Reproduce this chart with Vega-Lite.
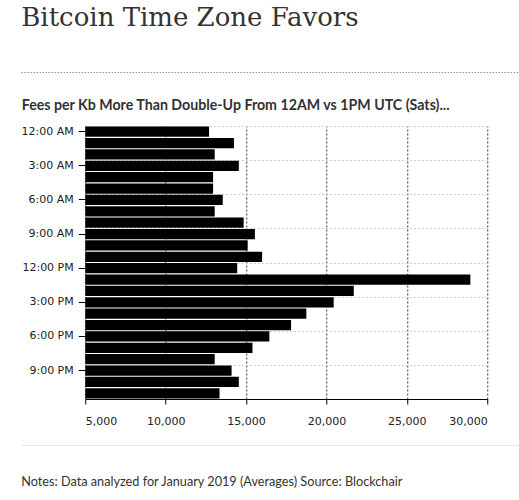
{
  "$schema": "https://vega.github.io/schema/vega-lite/v6.json",
  "background": "white",
  "padding": {"left": 20, "top": 4, "right": 0, "bottom": 5},
  "spacing": 12,
  "center": true,
  "bounds": "full",
  "config": {"view": {"stroke": null}, "font": "Lato"},
  "datasets": {
    "fees": [
      {"hour": "12:00 AM", "fee": 12700},
      {"hour": "1:00 AM", "fee": 14250},
      {"hour": "2:00 AM", "fee": 13050},
      {"hour": "3:00 AM", "fee": 14550},
      {"hour": "4:00 AM", "fee": 12950},
      {"hour": "5:00 AM", "fee": 12950},
      {"hour": "6:00 AM", "fee": 13550},
      {"hour": "7:00 AM", "fee": 13050},
      {"hour": "8:00 AM", "fee": 14850},
      {"hour": "9:00 AM", "fee": 15550},
      {"hour": "10:00 AM", "fee": 15100},
      {"hour": "11:00 AM", "fee": 16000},
      {"hour": "12:00 PM", "fee": 14450},
      {"hour": "1:00 PM", "fee": 28950},
      {"hour": "2:00 PM", "fee": 21700},
      {"hour": "3:00 PM", "fee": 20450},
      {"hour": "4:00 PM", "fee": 18750},
      {"hour": "5:00 PM", "fee": 17800},
      {"hour": "6:00 PM", "fee": 16450},
      {"hour": "7:00 PM", "fee": 15400},
      {"hour": "8:00 PM", "fee": 13050},
      {"hour": "9:00 PM", "fee": 14100},
      {"hour": "10:00 PM", "fee": 14550},
      {"hour": "11:00 PM", "fee": 13350}
    ]
  },
  "vconcat": [
    {
      "width": 530,
      "height": 0.01,
      "title": {
        "text": "Bitcoin Time Zone Favors",
        "font": "DejaVu Serif",
        "fontSize": 26,
        "fontWeight": "normal",
        "color": "#333333",
        "anchor": "start",
        "offset": 35
      },
      "view": {"stroke": "#888888", "strokeDash": [1, 2], "strokeWidth": 1},
      "data": {"values": [{}]},
      "mark": {"type": "text", "text": ""},
      "encoding": {
        "x": {
          "datum": 0,
          "type": "quantitative",
          "scale": {"domain": [0, 1]},
          "axis": {
            "title": "Fees per Kb More Than Double-Up From 12AM vs 1PM UTC (Sats)...",
            "titleFont": "Lato",
            "titleFontSize": 14.2,
            "titleFontWeight": "bold",
            "titleColor": "#333333",
            "titleAnchor": "start",
            "titlePadding": 26,
            "domain": false,
            "ticks": false,
            "labels": false,
            "grid": false
          }
        }
      }
    },
    {
      "width": 402,
      "height": 273,
      "data": {"name": "fees"},
      "resolve": {"axis": {"y": "independent"}},
      "layer": [
        {
          "mark": {"type": "text", "text": ""},
          "encoding": {
            "y": {
              "field": "hour",
              "type": "nominal",
              "sort": null,
              "scale": {"type": "band", "paddingInner": 0.1, "paddingOuter": 0.05},
              "axis": {
                "orient": "left",
                "title": null,
                "labels": false,
                "ticks": false,
                "domain": false,
                "grid": true,
                "bandPosition": 0,
                "gridColor": "#cccccc",
                "gridDash": [2, 2],
                "gridWidth": 1,
                "values": ["12:00 AM", "3:00 AM", "6:00 AM", "9:00 AM", "12:00 PM", "3:00 PM", "6:00 PM", "9:00 PM"]
              }
            }
          }
        },
        {
          "mark": {"type": "bar", "color": "#000000"},
          "encoding": {
            "y": {
              "field": "hour",
              "type": "nominal",
              "sort": null,
              "scale": {"type": "band", "paddingInner": 0.1, "paddingOuter": 0.05},
              "axis": {
                "orient": "left",
                "title": null,
                "grid": false,
                "domain": false,
                "tickColor": "#000000",
                "tickSize": 7,
                "labelPadding": 5,
                "labelFont": "DejaVu Sans",
                "labelFontSize": 11,
                "labelColor": "#222222",
                "values": ["12:00 AM", "3:00 AM", "6:00 AM", "9:00 AM", "12:00 PM", "3:00 PM", "6:00 PM", "9:00 PM"]
              }
            },
            "x": {
              "field": "fee",
              "type": "quantitative",
              "scale": {"domain": [5000, 30000], "nice": false, "zero": false},
              "axis": {
                "title": null,
                "values": [5000, 10000, 15000, 20000, 25000, 30000],
                "format": ",.0f",
                "grid": true,
                "gridColor": "#333333",
                "gridDash": [2, 2],
                "domainColor": "#000000",
                "tickColor": "#000000",
                "tickSize": 5,
                "labelPadding": 11,
                "labelFont": "DejaVu Sans",
                "labelFontSize": 11,
                "labelColor": "#222222"
              }
            },
            "x2": {"datum": 5000}
          }
        }
      ]
    },
    {
      "width": 530,
      "height": 0.01,
      "title": {
        "text": "Notes: Data analyzed for January 2019 (Averages) Source: Blockchair",
        "orient": "bottom",
        "anchor": "start",
        "font": "Lato",
        "fontSize": 12.7,
        "fontWeight": "normal",
        "color": "#333333",
        "offset": 26
      },
      "view": {"stroke": "#e6e6e6", "strokeWidth": 1},
      "data": {"values": [{}]},
      "mark": {"type": "text", "text": ""},
      "encoding": {}
    }
  ]
}
